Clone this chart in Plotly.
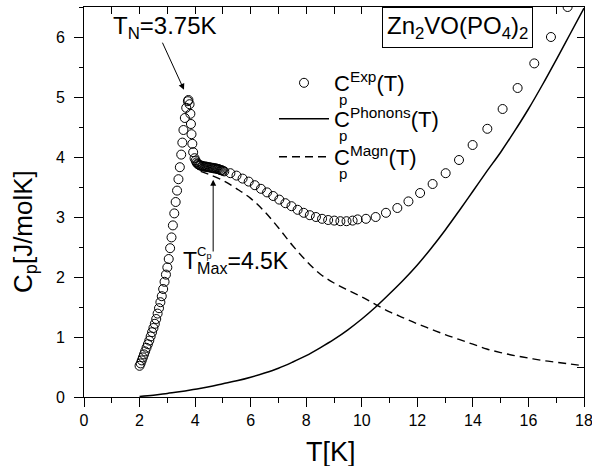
import plotly.graph_objects as go

# Experimental specific heat C_p^Exp(T)
T_exp = [2.00, 2.04, 2.08, 2.12, 2.16, 2.20, 2.25, 2.30, 2.35, 2.40, 2.45, 2.50, 2.55, 2.60,
         2.65, 2.70, 2.75, 2.80, 2.85, 2.90, 2.95, 3.00, 3.05, 3.10, 3.15, 3.20, 3.25, 3.30,
         3.35, 3.40, 3.45, 3.50, 3.54, 3.58, 3.63, 3.68, 3.74, 3.76,
         3.80, 3.83, 3.85, 3.87, 3.90, 3.93, 3.98,
         4.02, 4.05, 4.08, 4.11, 4.14, 4.17, 4.20, 4.24, 4.28, 4.32, 4.36, 4.40, 4.44, 4.48,
         4.52, 4.56, 4.60, 4.64, 4.68, 4.72, 4.76, 4.80, 4.84, 4.88, 4.92, 4.96, 5.00, 5.05,
         5.27, 5.49, 5.71, 5.93, 6.15, 6.37, 6.59, 6.81, 7.03, 7.25, 7.47, 7.69, 7.91, 8.13,
         8.35, 8.57, 8.79, 9.01, 9.23, 9.45, 9.67, 9.85,
         10.15, 10.50, 10.87, 11.28, 11.68, 12.10, 12.55, 13.02, 13.50, 13.99, 14.52, 15.07,
         15.61, 16.21, 16.81, 17.41]
C_exp = [0.52, 0.56, 0.61, 0.66, 0.71, 0.76, 0.82, 0.88, 0.94, 1.01, 1.08, 1.15, 1.22, 1.30,
         1.39, 1.48, 1.58, 1.68, 1.80, 1.92, 2.04, 2.16, 2.30, 2.48, 2.66, 2.86, 3.06, 3.25,
         3.44, 3.63, 3.83, 4.04, 4.24, 4.45, 4.65, 4.82, 4.93, 4.95,
         4.88, 4.72, 4.55, 4.38, 4.22, 4.08, 3.98,
         3.94, 3.91, 3.89, 3.88, 3.87, 3.86, 3.86, 3.85, 3.85, 3.84, 3.84, 3.84, 3.83, 3.83,
         3.83, 3.82, 3.82, 3.82, 3.81, 3.81, 3.81, 3.80, 3.80, 3.79, 3.78, 3.78, 3.77, 3.76,
         3.73, 3.69, 3.64, 3.59, 3.53, 3.47, 3.41, 3.35, 3.29, 3.23, 3.18, 3.12, 3.07, 3.03,
         3.00, 2.97, 2.95, 2.94, 2.93, 2.93, 2.94, 2.96,
         2.97, 3.00, 3.07, 3.15, 3.26, 3.40, 3.55, 3.73, 3.95, 4.20, 4.47, 4.80,
         5.15, 5.56, 6.00, 6.50]

# Phonon contribution C_p^Phonons(T)
T_ph = [2.0, 2.5, 3.0, 3.5, 4.0, 4.5, 5.0, 5.5, 6.0, 6.5, 7.0, 7.5, 8.0, 8.5, 9.0, 9.5,
        10.0, 10.5, 11.0, 11.5, 12.0, 12.5, 13.0, 13.5, 14.0, 14.5, 15.0, 15.5, 16.0,
        16.5, 17.0, 17.5, 18.0]
C_ph = [0.01, 0.03, 0.06, 0.09, 0.13, 0.17, 0.22, 0.27, 0.33, 0.40, 0.48, 0.58, 0.69,
        0.82, 0.96, 1.12, 1.30, 1.50, 1.72, 1.95, 2.20, 2.48, 2.78, 3.10, 3.43, 3.76,
        4.08, 4.43, 4.80, 5.20, 5.62, 6.05, 6.48]

# Magnetic contribution C_p^Magn(T)
T_mag = [4.2, 4.5, 5.0, 5.5, 6.0, 6.5, 7.0, 7.5, 8.0, 8.5, 9.0, 9.5, 10.0, 10.5, 11.0,
         11.5, 12.0, 12.5, 13.0, 13.5, 14.0, 14.5, 15.0, 15.5, 16.0, 16.5, 17.0, 17.5, 18.0]
C_mag = [3.76, 3.71, 3.61, 3.47, 3.31, 3.09, 2.82, 2.53, 2.27, 2.05, 1.90, 1.78, 1.67,
         1.54, 1.42, 1.32, 1.22, 1.13, 1.04, 0.96, 0.88, 0.80, 0.74, 0.69, 0.65, 0.61,
         0.58, 0.55, 0.52]

x_ticks = [0, 2, 4, 6, 8, 10, 12, 14, 16, 18]
y_ticks = [0, 1, 2, 3, 4, 5, 6]

FONT = "Liberation Sans, Arial, Helvetica, sans-serif"
W, H = 592, 466
L, R, T, B = 84, 8, 7, 69
PW, PH = W - L - R, H - T - B


def px(xp):   # pixel x -> paper x
    return (xp - L) / PW


def py(yp):   # pixel y -> paper y
    return (H - B - yp) / PH


fig = go.Figure()
fig.add_trace(go.Scatter(
    x=T_exp, y=C_exp, mode="markers", name="C<sup>Exp</sup>(T)", legend="legend",
    marker=dict(symbol="circle-open", size=9, color="black", line=dict(width=1, color="black"))))
fig.add_trace(go.Scatter(
    x=T_ph, y=C_ph, mode="lines", name="C<sup>Phonons</sup>(T)", legend="legend2",
    line=dict(color="black", width=1.5), line_shape="spline"))
fig.add_trace(go.Scatter(
    x=T_mag, y=C_mag, mode="lines", name="C<sup>Magn</sup>(T)", legend="legend3",
    line=dict(color="black", width=1.4, dash="8px,5px"), line_shape="spline"))
# empty trace carrying the mirrored (inside-tick) top/right axes
fig.add_trace(go.Scatter(x=[], y=[], xaxis="x2", yaxis="y2", showlegend=False, hoverinfo="skip"))

axis_common = dict(showgrid=False, zeroline=False, showline=True, linecolor="black",
                   linewidth=1, tickcolor="black", tickwidth=1, automargin=False)

leg_common = dict(xanchor="left", yanchor="top", bgcolor="rgba(0,0,0,0)",
                  font=dict(size=22, family=FONT), itemwidth=50)

fig.update_layout(
    width=W, height=H,
    margin=dict(l=L, r=R, t=T, b=B, autoexpand=False),
    paper_bgcolor="white", plot_bgcolor="white",
    font=dict(family=FONT, color="black"),
    showlegend=True,
    legend=dict(x=px(274), y=py(62), **leg_common),
    legend2=dict(x=px(274), y=py(98), **leg_common),
    legend3=dict(x=px(274), y=py(136), **leg_common),
    xaxis=dict(range=[0, 18], tickvals=x_ticks, ticks="outside", ticklen=9,
               tickfont=dict(size=16), ticklabeloverflow="allow",
               minor=dict(dtick=1, ticklen=5, ticks="outside", tickcolor="black"),
               **axis_common),
    yaxis=dict(range=[0, 6.5], tickvals=y_ticks, ticks="outside", ticklen=9,
               tickfont=dict(size=16), ticklabeloverflow="allow",
               minor=dict(dtick=0.5, ticklen=4, ticks="outside", tickcolor="black"),
               ticklabelstandoff=6, **axis_common),
    xaxis2=dict(range=[0, 18], overlaying="x", side="top", dtick=1, ticks="inside",
                ticklen=7, showticklabels=False, **axis_common),
    yaxis2=dict(range=[0, 6.5], overlaying="y", side="right", dtick=0.5, ticks="inside",
                ticklen=7, showticklabels=False, **axis_common),
)

annotations = [
    # axis titles
    dict(text="T[K]", xref="paper", yref="paper", x=px(331), y=py(452),
         xanchor="center", yanchor="middle", showarrow=False, font=dict(size=27)),
    dict(text="C<sub>p</sub>[J/molK]", xref="paper", yref="paper", x=px(25),
         y=py(232), xanchor="center", yanchor="middle", textangle=-90,
         showarrow=False, font=dict(size=26)),
    # compound label
    dict(text="Zn<sub>2</sub>VO(PO<sub>4</sub>)<sub>2</sub>", xref="paper", yref="paper",
         x=px(457), y=py(27), xanchor="center", yanchor="middle",
         showarrow=False, font=dict(size=24), bordercolor="black", borderwidth=1,
         borderpad=4, bgcolor="white"),
    # T_N arrow and label
    dict(text="", x=3.60, y=5.12, ax=2.80, ay=5.93, axref="x", ayref="y",
         showarrow=True, arrowhead=2, arrowsize=1.2, arrowwidth=1, arrowcolor="black"),
    dict(text="T<sub>N</sub>=3.75K", xref="paper", yref="paper", x=px(165), y=py(27),
         xanchor="center", yanchor="middle", showarrow=False, font=dict(size=24)),
    # T_Max arrow and label
    dict(text="", x=4.65, y=3.62, ax=4.65, ay=2.40, axref="x", ayref="y",
         showarrow=True, arrowhead=2, arrowsize=1.2, arrowwidth=1, arrowcolor="black"),
    dict(text="T<sub>Max</sub>=4.5K", xref="paper", yref="paper", x=px(181), y=py(262),
         xanchor="left", yanchor="middle", showarrow=False, font=dict(size=23)),
    dict(text="C<sub>p</sub>", xref="paper", yref="paper", x=px(195), y=py(252),
         xanchor="left", yanchor="middle", showarrow=False, font=dict(size=13)),
]

# subscript "p" under each legend superscript
for ypix in (99, 135, 173):
    annotations.append(dict(text="p", xref="paper", yref="paper", x=px(337), y=py(ypix),
                            xanchor="left", yanchor="middle", showarrow=False,
                            font=dict(size=15)))

fig.update_layout(annotations=annotations)

fig.write_html("out.html", config={"displayModeBar": False},
               post_script="document.body.style.margin='0';document.body.style.padding='0';")
